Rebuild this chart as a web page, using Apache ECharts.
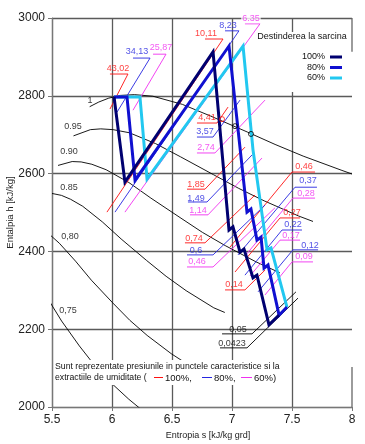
<!DOCTYPE html>
<html><head><meta charset="utf-8">
<script src="https://cdn.jsdelivr.net/npm/echarts@6/dist/echarts.min.js"></script>
<style>html,body{margin:0;padding:0;background:#fff}#c{width:365px;height:444px}</style>
</head><body><div id="c"></div>
<script>
// ---- axes ----
const sMin = 5.5, sMax = 8, sStep = 0.5;
const hMin = 2000, hMax = 3000, hStep = 200;

// ---- lines of constant dryness x (s, h) ----
const qualityNames = ['1', '0.95', '0.90', '0.85', '0,80', '0,75'];
const qualityLabelAt = [[5.817, 2787], [5.675, 2722], [5.642, 2658], [5.642, 2565], [5.65, 2437], [5.633, 2249]];
const qX100 = [[5.814,2772],[5.89,2784],[5.973,2794],[6.07,2801],[6.186,2803],[6.34,2799],[6.586,2778],[6.821,2748],[7.127,2707],[7.359,2675],[7.593,2645],[7.909,2609],[8.0,2599]];
const qX095 = [[5.679,2697],[5.82,2713],[5.906,2715],[6.009,2713],[6.145,2705],[6.364,2677],[6.572,2643],[6.847,2597],[7.056,2562],[7.268,2530],[7.555,2491],[7.675,2477]];
const qX090 = [[5.55,2621],[5.668,2631],[5.743,2630],[5.832,2624],[5.951,2610],[6.141,2577],[6.324,2537],[6.567,2487],[6.753,2449],[6.943,2415],[7.201,2373],[7.399,2345]];
const qX085 = [[5.5,2549],[5.579,2544],[5.655,2534],[5.756,2516],[5.919,2476],[6.076,2432],[6.287,2377],[6.451,2336],[6.618,2299],[6.848,2255],[6.94,2243]];
const qX080 = [[5.478,2444],[5.561,2421],[5.696,2375],[5.828,2326],[6.008,2267],[6.148,2223],[6.293,2184],[6.494,2137],[6.649,2106]];
const qX075 = [[5.474,2274],[5.58,2221],[5.728,2157],[5.845,2111],[5.968,2069],[6.14,2020],[6.274,1986]];
const qualityLines = [qX100, qX095, qX090, qX085, qX080, qX075];

// ---- expansion lines for each load ----
const loadNames = ['100%', '80%', '60%'];
const load100 = [[6.017,2797],[6.108,2578],[6.842,2913],[6.975,2455],[7.008,2463],[7.067,2398],[7.1,2406],[7.175,2332],[7.208,2339],[7.308,2211],[7.392,2236]];
const load80  = [[6.017,2797],[6.125,2797],[6.192,2583],[6.975,2928],[7.125,2501],[7.158,2509],[7.208,2429],[7.242,2437],[7.267,2357],[7.3,2365],[7.392,2236],[7.458,2257]];
const load60  = [[6.017,2797],[6.233,2797],[6.292,2586],[7.092,2928],[7.175,2661],[7.292,2404],[7.325,2409],[7.458,2257]];
const satPointsBlack = [[7.025,2722],[7.158,2702]];
const satPointsRed = [[6.917,2740]];

// ---- pressures (bar) with their isobar leaders ----
const redNames = ['43,02','10,11','4,41','1,85','0,74','0,46','0,27','0,14'];
const redLines = [
  [[5.983,2856],[6.133,2856],[5.983,2766]],
  [[6.775,2946],[6.925,2946],[5.958,2501]],
  [[6.708,2730],[6.875,2730],[6.967,2771]],
  [[6.625,2560],[6.775,2560],[7.108,2668]],
  [[6.608,2422],[6.775,2422],[7.192,2545]],
  [[7.692,2604],[7.5,2604],[6.983,2411]],
  [[7.567,2486],[7.4,2486],[7.025,2347]],
  [[6.942,2301],[7.108,2301],[7.275,2352]]
];
const redLabelAt = [[6.05,2871],[6.783,2961],[6.792,2743],[6.7,2573],[6.683,2434],[7.6,2617],[7.5,2499],[7.017,2316]];

const blueNames = ['34,13','8,23','3,57','1,49','0,6','0,37','0,22','0,12'];
const blueLines = [
  [[6.175,2897],[6.317,2897],[6.042,2758]],
  [[6.942,2967],[7.058,2967],[6.025,2501]],
  [[6.708,2694],[6.842,2694],[7.067,2789]],
  [[6.633,2527],[6.792,2527],[7.167,2648]],
  [[6.625,2391],[6.842,2391],[7.275,2519]],
  [[7.708,2565],[7.525,2565],[7.05,2391]],
  [[7.583,2455],[7.417,2455],[7.108,2339]],
  [[7.717,2404],[7.508,2404],[7.217,2296]]
];
const blueLabelAt = [[6.208,2913],[6.967,2980],[6.775,2709],[6.7,2537],[6.7,2401],[7.633,2581],[7.508,2468],[7.65,2416]];

const magentaNames = ['25,87','6.35','2,74','1,14','0,46','0,28','0,17','0,09'];
const magentaLines = [
  [[6.342,2907],[6.45,2907],[6.175,2763]],
  [[7.108,2985],[7.233,2985],[6.108,2501]],
  [[6.708,2653],[6.858,2653],[7.275,2789]],
  [[6.65,2494],[6.8,2494],[7.25,2640]],
  [[6.625,2360],[6.842,2360],[7.358,2512]],
  [[7.692,2537],[7.508,2537],[7.108,2388]],
  [[7.567,2429],[7.4,2429],[7.15,2337]],
  [[7.675,2373],[7.5,2373],[7.275,2288]]
];
const magentaLabelAt = [[6.408,2923],[7.158,2998],[6.783,2666],[6.717,2506],[6.708,2373],[7.617,2550],[7.492,2442],[7.6,2386]];

const blackNames = ['0,05','0,0423'];
const blackLines = [
  [[6.917,2188],[7.167,2188],[7.533,2296]],
  [[6.9,2152],[7.125,2152],[7.55,2280]]
];
const blackLabelAt = [[7.05,2200],[7.0,2164]];

// right frame pieces that are visible in the original
const frameRight = [[[8,3000],[8,2913]], [[8,2103],[8,2000]]];

// ---- build ----
const FONT = '"Liberation Sans", Arial, sans-serif';
const C100 = '#000070', C80 = '#1010d0', C60 = '#22c8f0';
const RED = '#ff1010', BLUE = '#2626e0', MAG = '#f030f0';

const series = [];
qualityLines.forEach((d, i) => series.push({
  type: 'line', name: 'x' + i, data: d, showSymbol: false, silent: true, z: 1,
  lineStyle: { color: '#000', width: 0.9 }
}));
function isoGroup(lines, color) {
  lines.forEach(d => series.push({
    type: 'line', data: d, showSymbol: false, silent: true, z: 2,
    lineStyle: { color, width: 0.9 }
  }));
}
isoGroup(redLines, RED); isoGroup(blueLines, BLUE); isoGroup(magentaLines, MAG); isoGroup(blackLines, '#000');

[[load60, C60, '60%'], [load80, C80, '80%'], [load100, C100, '100%']].forEach(([d, c, n]) => series.push({
  type: 'line', name: n, data: d, showSymbol: false, silent: true, z: 5,
  itemStyle: { color: c }, lineStyle: { color: c, width: 3, join: 'miter' }
}));

series.push({ type: 'scatter', data: satPointsBlack, symbol: 'circle', symbolSize: 5, z: 6, silent: true,
  itemStyle: { color: 'rgba(0,0,0,0)', borderColor: '#000', borderWidth: 1 } });
series.push({ type: 'scatter', data: satPointsRed, symbol: 'circle', symbolSize: 5, z: 6, silent: true,
  itemStyle: { color: 'rgba(0,0,0,0)', borderColor: RED, borderWidth: 1 } });

frameRight.forEach(d => series.push({ type: 'line', data: d, showSymbol: false, silent: true, clip: false, z: 1,
  lineStyle: { color: '#666', width: 1.3 } }));

function labelSeries(names, at, color, bg) {
  series.push({
    type: 'scatter', silent: true, z: 8, symbolSize: 1,
    itemStyle: { color: 'rgba(0,0,0,0)' },
    data: names.map((n, i) => ({ value: at[i], name: n })),
    label: { show: true, position: 'inside', formatter: p => p.name, color, fontFamily: FONT, fontSize: 9,
      backgroundColor: bg ? bg : 'transparent', padding: bg ? [0, 1] : 0 }
  });
}
labelSeries(qualityNames, qualityLabelAt, '#000');
labelSeries(redNames, redLabelAt, RED);
labelSeries(blueNames, blueLabelAt, BLUE);
labelSeries(magentaNames.filter((n, i) => i !== 1), magentaLabelAt.filter((n, i) => i !== 1), MAG);
labelSeries([magentaNames[1]], [magentaLabelAt[1]], MAG, '#fff');
labelSeries(blackNames, blackLabelAt, '#000');

const NOTE_FONT = '8.7px ' + FONT;
const chart = echarts.init(document.getElementById('c'), null, { renderer: 'canvas' });
chart.setOption({
  animation: false,
  backgroundColor: '#fff',
  grid: { left: 52, right: 13, top: 18, bottom: 37, containLabel: false, outerBoundsMode: 'none' },
  xAxis: {
    type: 'value', min: sMin, max: sMax, interval: sStep,
    name: 'Entropia s [kJ/kg grd]', nameLocation: 'middle', nameGap: 22,
    nameTextStyle: { fontFamily: FONT, fontSize: 9, color: '#222', padding: [0, 0, 0, 12] },
    axisLine: { show: true, lineStyle: { color: '#777', width: 1.2 } },
    axisTick: { show: true, length: 4, lineStyle: { color: '#777' } },
    axisLabel: { fontFamily: FONT, fontSize: 12, color: '#222', margin: 7, formatter: v => String(v) },
    splitLine: { show: true, showMaxLine: false, lineStyle: { color: '#5a5a5a', width: 1.3 } }
  },
  yAxis: {
    type: 'value', min: hMin, max: hMax, interval: hStep,
    name: 'Entalpia h [kJ/kg]', nameLocation: 'middle', nameGap: 37, nameMoveOverlap: false,
    nameTextStyle: { fontFamily: FONT, fontSize: 9.5, color: '#222' },
    axisLine: { show: true, lineStyle: { color: '#777', width: 1.2 } },
    axisTick: { show: true, length: 4, lineStyle: { color: '#777' } },
    axisLabel: { fontFamily: FONT, fontSize: 12, color: '#222', margin: 7, formatter: v => String(v) },
    splitLine: { show: true, lineStyle: { color: '#5a5a5a', width: 1.3 } }
  },
  legend: {
    data: loadNames, orient: 'vertical', right: 23, top: 52, padding: 0, itemGap: 0.5,
    align: 'right', icon: 'rect', itemWidth: 12, itemHeight: 3, z: 6,
    textStyle: { fontFamily: FONT, fontSize: 9, color: '#111', lineHeight: 10 }
  },
  graphic: [
    { type: 'rect', z: 3, shape: { x: 257, y: 32, width: 88, height: 60 }, style: { fill: '#fff' } },
    { type: 'text', z: 7, x: 302, y: 37, style: { text: 'Destinderea la sarcina', font: '9px ' + FONT, fill: '#111', align: 'center', verticalAlign: 'middle' } },
    { type: 'rect', z: 100, shape: { x: 54, y: 360, width: 228, height: 25 }, style: { fill: '#fff' } },
    { type: 'text', z: 101, x: 55, y: 367, style: { text: 'Sunt reprezentate presiunile in punctele caracteristice si la', font: NOTE_FONT, fill: '#111', verticalAlign: 'middle' } },
    { type: 'text', z: 101, x: 55, y: 378, style: { text: 'extractiile de umiditate (', font: NOTE_FONT, fill: '#111', verticalAlign: 'middle' } },
    { type: 'line', z: 101, shape: { x1: 154, y1: 377.5, x2: 163, y2: 377.5 }, style: { stroke: RED, lineWidth: 1 } },
    { type: 'text', z: 101, x: 165, y: 378, style: { text: '100%,', font: '9.5px ' + FONT, fill: '#111', verticalAlign: 'middle' } },
    { type: 'line', z: 101, shape: { x1: 202, y1: 377.5, x2: 212, y2: 377.5 }, style: { stroke: BLUE, lineWidth: 1 } },
    { type: 'text', z: 101, x: 214, y: 378, style: { text: '80%,', font: '9.5px ' + FONT, fill: '#111', verticalAlign: 'middle' } },
    { type: 'line', z: 101, shape: { x1: 241, y1: 377.5, x2: 252, y2: 377.5 }, style: { stroke: MAG, lineWidth: 1 } },
    { type: 'text', z: 101, x: 254, y: 378, style: { text: '60%)', font: '9.5px ' + FONT, fill: '#111', verticalAlign: 'middle' } }
  ],
  series
});
</script></body></html>
